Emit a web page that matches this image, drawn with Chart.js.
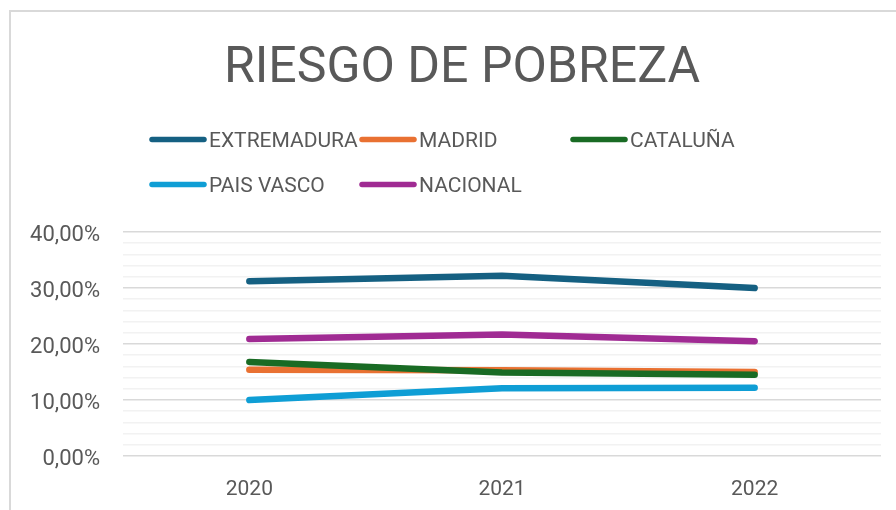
<!DOCTYPE html>
<html>
<head>
<meta charset="utf-8">
<script src="https://cdn.jsdelivr.net/npm/chart.js@4/dist/chart.umd.min.js"></script>
<style>
  html, body { margin: 0; padding: 0; background: #ffffff; overflow: hidden; width: 896px; height: 510px; }
  #frame { position: absolute; left: 9px; top: 10px; width: 904px; height: 520px;
           border-top: 2px solid #d9d9d9; border-left: 2px solid #d9d9d9; }
  #wrap { position: absolute; left: 0; top: 0; width: 900px; height: 498px; }
</style>
</head>
<body>
<div id="frame"><div id="wrap"><canvas id="c"></canvas></div></div>
<script>
const categories = ['2020', '2021', '2022'];
const seriesNames = ['EXTREMADURA', 'MADRID', 'CATALUÑA', 'PAIS VASCO', 'NACIONAL'];
const extremadura = [31.2, 32.2, 30.0];
const madrid = [15.4, 15.3, 15.0];
const cataluna = [16.8, 14.9, 14.5];
const paisVasco = [10.0, 12.1, 12.2];
const nacional = [20.9, 21.7, 20.5];
const yTickValues = [0, 10, 20, 30, 40];
const chartTitle = 'RIESGO DE POBREZA';

const seriesValues = [extremadura, madrid, cataluna, paisVasco, nacional];
const seriesColors = ['#156082', '#E97132', '#196B24', '#0F9ED5', '#A02B93'];
const FONT = 'Roboto, "Liberation Sans", Arial, sans-serif';
const TEXT = '#595959';

function fmtPct(v) { return v.toFixed(2).replace('.', ',') + '%'; }

const headerPlugin = {
  id: 'header',
  afterDraw(chart) {
    const ctx = chart.ctx;
    ctx.save();
    ctx.fillStyle = TEXT;
    ctx.font = '50px ' + FONT;
    ctx.textAlign = 'center';
    ctx.textBaseline = 'alphabetic';
    ctx.fillText(chartTitle, 451, 70);
    const colX = [138, 348, 559];
    const rowY = [127.5, 172.5];
    ctx.font = '21px ' + FONT;
    ctx.textAlign = 'left';
    chart.data.datasets.forEach((ds, i) => {
      const x0 = colX[i % 3];
      const yc = rowY[Math.floor(i / 3)];
      ctx.strokeStyle = ds.borderColor;
      ctx.lineWidth = 5.5;
      ctx.lineCap = 'round';
      ctx.beginPath();
      ctx.moveTo(x0 + 3, yc);
      ctx.lineTo(x0 + 55, yc);
      ctx.stroke();
      ctx.fillStyle = TEXT;
      ctx.fillText(ds.label, x0 + 60, yc + 7.5);
    });
    ctx.restore();
  }
};

new Chart(document.getElementById('c'), {
  type: 'line',
  data: {
    labels: categories,
    datasets: seriesNames.map((name, i) => ({
      label: name,
      data: seriesValues[i],
      borderColor: seriesColors[i],
      backgroundColor: seriesColors[i],
      borderWidth: 6.5,
      borderCapStyle: 'round',
      borderJoinStyle: 'round',
      pointRadius: 0,
      pointHoverRadius: 0,
      tension: 0,
      fill: false,
      order: seriesNames.length - i
    }))
  },
  options: {
    responsive: true,
    maintainAspectRatio: false,
    animation: false,
    events: [],
    layout: { padding: { top: 220, left: 0, right: 30, bottom: 0 } },
    plugins: {
      legend: { display: false },
      title: { display: false },
      tooltip: { enabled: false }
    },
    scales: {
      x: {
        offset: true,
        grid: { display: false, drawTicks: false },
        border: { display: false },
        ticks: { color: TEXT, font: { family: FONT, size: 21 }, padding: 21, maxRotation: 0 },
        afterFit(scale) { scale.height = 54; }
      },
      y: {
        min: 0,
        max: 40,
        grid: {
          drawTicks: false,
          lineWidth: 1.5,
          color: (c) => (c.tick && yTickValues.includes(Math.round(c.tick.value)) ? '#d9d9d9' : '#f2f2f2')
        },
        border: { display: false },
        ticks: {
          stepSize: 2,
          autoSkip: false,
          color: TEXT,
          font: { family: FONT, size: 22 },
          padding: 23,
          labelOffset: 3,
          callback: (v) => (yTickValues.includes(Math.round(v)) ? fmtPct(v) : '')
        },
        afterFit(scale) { scale.width = 112; }
      }
    }
  },
  plugins: [headerPlugin]
});
</script>
</body>
</html>
